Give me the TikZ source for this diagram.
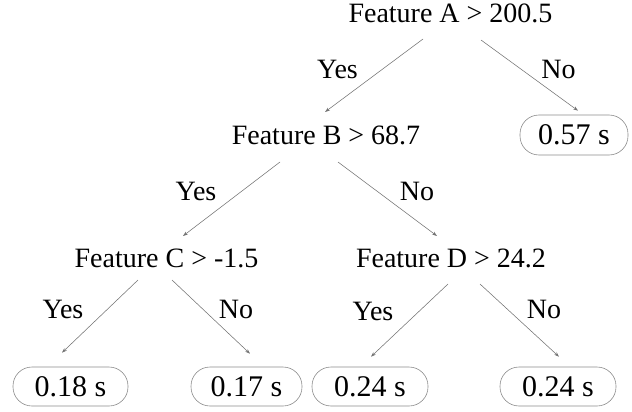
\documentclass[tikz,border=0pt]{standalone}
\usepackage{fontspec}
\setmainfont{Liberation Serif}
\usetikzlibrary{arrows.meta}
\begin{document}
\begin{tikzpicture}[x=1pt,y=-1pt,
  every node/.style={font=\fontsize{28}{33}\selectfont, inner sep=0pt},
  test/.style={anchor=base},
  lbl/.style={anchor=base},
  leaf/.style={draw=black!45, line width=0.6pt, rounded corners=19pt,
               minimum width=114pt, minimum height=39pt,
               font=\fontsize{30}{34}\selectfont},
  edge/.style={draw=black!55, line width=0.55pt,
               -{Stealth[length=5pt,width=3.5pt]}}]
\useasboundingbox (0,0) rectangle (632,412);

% split tests
\node[test] (A) at (450.5,23) {Feature A > 200.5};
\node[test] (B) at (326,144) {Feature B > 68.7};
\node[test] (C) at (166.5,267) {Feature C > -1.5};
\node[test] (D) at (451,267) {Feature D > 24.2};

% leaves
\node[leaf, minimum width=108pt, minimum height=40pt] (L1) at (574,135) {0.57 s};
\node[leaf, minimum width=115pt] (L2) at (70.5,386.5) {0.18 s};
\node[leaf, minimum width=111pt] (L3) at (246.5,386.5) {0.17 s};
\node[leaf, minimum width=116pt] (L4) at (370,386.5) {0.24 s};
\node[leaf, minimum width=116pt] (L5) at (558,386.5) {0.24 s};

% branches
\draw[edge] ([shift={(-27.5,16)}]A.base) -- ([shift={(-1,-32)}]B.base);
\draw[edge] ([shift={(30.5,17)}]A.base) -- ([shift={(4,-4)}]L1.north);
\draw[edge] ([shift={(-46,18)}]B.base) -- ([shift={(16.5,-31)}]C.base);
\draw[edge] ([shift={(12,18)}]B.base) -- ([shift={(-14,-31)}]D.base);
\draw[edge] ([shift={(-28.5,13)}]C.base) -- ([shift={(-8.5,-14)}]L2.north);
\draw[edge] ([shift={(5.5,13)}]C.base) -- ([shift={(3.5,-13)}]L3.north);
\draw[edge] ([shift={(-3,17)}]D.base) -- ([shift={(1,-10)}]L4.north);
\draw[edge] ([shift={(29,17)}]D.base) -- ([shift={(1,-10)}]L5.north);

% branch labels
\node[lbl] (ay) at (337.5,78) {Yes};
\node[lbl] (an) at (558.5,78) {No};
\node[lbl] (by) at (196,200) {Yes};
\node[lbl] (bn) at (417,200) {No};
\node[lbl] (cy) at (63,318) {Yes};
\node[lbl] (cn) at (236,318) {No};
\node[lbl] (dy) at (373,320) {Yes};
\node[lbl] (dn) at (544,318) {No};
\end{tikzpicture}
\end{document}
